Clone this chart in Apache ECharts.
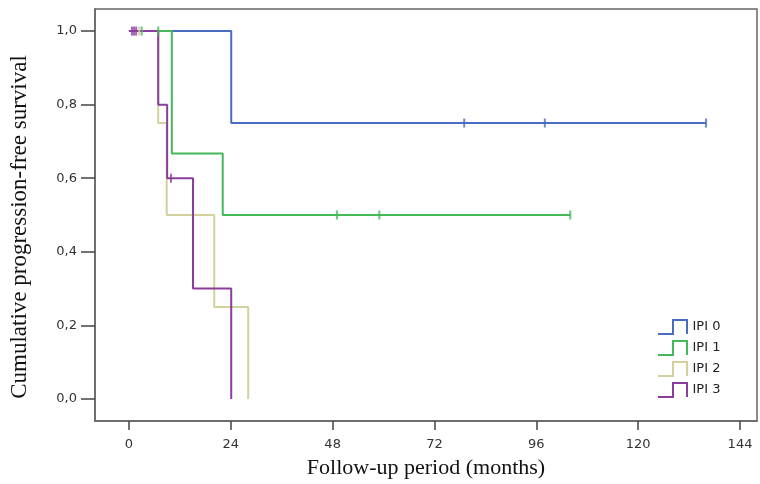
<!DOCTYPE html>
<html>
<head>
<meta charset="utf-8">
<script src="https://cdn.jsdelivr.net/npm/echarts@6/dist/echarts.min.js"></script>
<style>
  html, body { margin: 0; padding: 0; background: #fff; }
  #main { width: 760px; height: 484px; }
</style>
</head>
<body>
<div id="main"></div>
<script>
// 坐标轴刻度
var xTicks = [0, 24, 48, 72, 96, 120, 144];
var yTicks = [0, 0.2, 0.4, 0.6, 0.8, 1.0];

// 各组生存曲线 [月份, 累计无进展生存率]
var ipi0 = [[0, 1], [24.1, 0.75], [136, 0.75]];
var ipi1 = [[0, 1], [10.1, 0.667], [22.1, 0.5], [104, 0.5]];
var ipi2 = [[0, 1], [6.9, 0.75], [8.9, 0.5], [20.1, 0.25], [28.1, 0]];
var ipi3 = [[0, 1], [6.9, 0.8], [9.0, 0.6], [15.1, 0.3], [24.1, 0]];

// 删失点
var cens0 = [[79, 0.75], [98, 0.75], [136, 0.75]];
var cens1 = [[3.0, 1], [6.9, 1], [49, 0.5], [59, 0.5], [104, 0.5]];
var cens2 = [[2.4, 1]];
var cens3 = [[0.7, 1], [1.2, 1], [1.7, 1], [9.9, 0.6]];

var names = ['IPI 0', 'IPI 1', 'IPI 2', 'IPI 3'];
var colors = ['#4a6cc2', '#45b85a', '#d3d19c', '#8b3c9c'];
var curves = [ipi0, ipi1, ipi2, ipi3];
var censors = [cens0, cens1, cens2, cens3];

var series = [];
curves.forEach(function (d, i) {
    series.push({
        name: names[i],
        type: 'line',
        step: 'end',
        data: d,
        symbol: 'none',
        lineStyle: { color: colors[i], width: 2 },
        itemStyle: { color: colors[i] },
        z: 2 + (i === 2 ? 0 : 1)
    });
});
censors.forEach(function (d, i) {
    series.push({
        name: names[i] + ' censored',
        type: 'scatter',
        data: d,
        symbol: 'rect',
        symbolSize: [2, 9],
        itemStyle: { color: colors[i] },
        z: 4
    });
});

// 图例：阶梯形图标
var legendData = names.map(function (n, i) {
    return {
        name: n,
        itemStyle: { color: 'rgba(0,0,0,0)', borderColor: colors[i], borderWidth: 2 }
    };
});

var myChart = echarts.init(document.getElementById('main'));
myChart.setOption({
    animation: false,
    grid: {
        left: 95, right: 3, top: 9, bottom: 61,
        show: true,
        borderColor: '#666',
        borderWidth: 1.5
    },
    legend: {
        data: legendData,
        orient: 'vertical',
        left: 652,
        top: 314,
        itemWidth: 30,
        itemHeight: 14,
        itemGap: 5,
        icon: 'path://M0,14 L15,14 L15,0 L29,0 L29,14',
        textStyle: { fontFamily: 'DejaVu Sans', fontSize: 13, color: '#222' }
    },
    xAxis: {
        type: 'value',
        min: -8,
        max: 148,
        splitLine: { show: false },
        axisLine: { show: true, onZero: false, lineStyle: { color: '#666', width: 1.5 } },
        axisTick: { show: true, length: 9, customValues: xTicks, lineStyle: { color: '#444', width: 1.5 } },
        axisLabel: {
            customValues: xTicks,
            margin: 17,
            fontFamily: 'DejaVu Sans',
            fontSize: 13,
            color: '#333'
        },
        name: 'Follow-up period (months)',
        nameLocation: 'middle',
        nameGap: 36,
        nameTextStyle: { fontFamily: 'Liberation Serif', fontSize: 22, color: '#111' }
    },
    yAxis: {
        type: 'value',
        min: -0.06,
        max: 1.06,
        splitLine: { show: false },
        axisLine: { show: true, onZero: false, lineStyle: { color: '#666', width: 1.5 } },
        axisTick: { show: true, length: 14, customValues: yTicks, lineStyle: { color: '#444', width: 1.5 } },
        axisLabel: {
            customValues: yTicks,
            margin: 18,
            fontFamily: 'DejaVu Sans',
            fontSize: 13,
            color: '#333',
            formatter: function (v) { return v.toFixed(1).replace('.', ','); }
        },
        name: 'Cumulative progression-free survival',
        nameLocation: 'middle',
        nameGap: 64,
        nameTextStyle: { fontFamily: 'Liberation Serif', fontSize: 23, color: '#111', padding: [0, 24, 0, 0] }
    },
    series: series
});
</script>
</body>
</html>
